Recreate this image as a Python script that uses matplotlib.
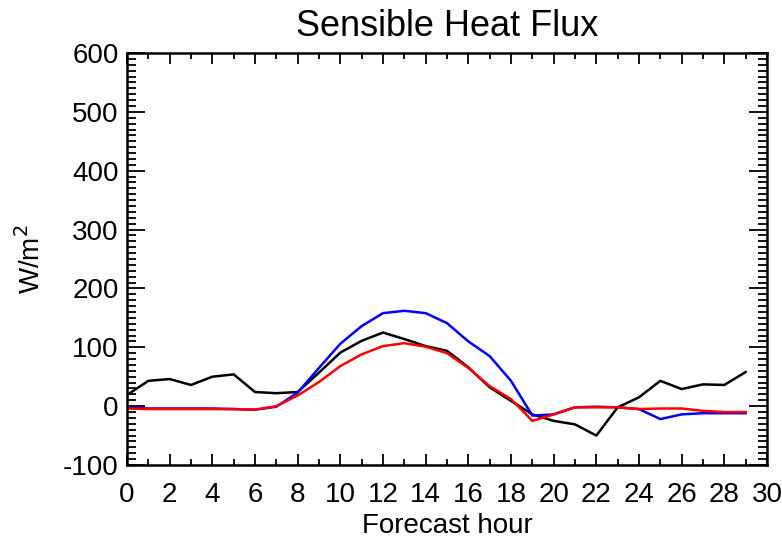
import matplotlib
matplotlib.use("Agg")
import matplotlib.pyplot as plt
from matplotlib.ticker import MultipleLocator

hours = list(range(30))
black = [19, 43, 46, 36, 50, 54, 24, 22, 24, 57, 91, 111, 125, 114, 102, 94, 66, 32, 9,
         -14, -25, -31, -50, -2, 15, 43, 29, 37, 36, 58]
blue = [-3, -4, -4, -4, -4, -5, -6, -1, 23, 65, 106, 136, 158, 162, 158, 141, 110, 85, 43,
        -16, -14, -2, -1, -2, -5, -22, -14, -12, -12, -12]
red = [-4, -5, -5, -5, -5, -5, -6, 0, 18, 41, 68, 88, 102, 107, 101, 90, 65, 34, 12,
       -25, -14, -2, -2, -2, -5, -4, -4, -8, -10, -10]

xticks = list(range(0, 31, 2))
yticks = list(range(-100, 601, 100))

plt.rcParams['font.family'] = ['Liberation Sans', 'DejaVu Sans']
plt.rcParams['axes.unicode_minus'] = False

fig = plt.figure(figsize=(7.82, 5.40), dpi=100)
ax = fig.add_axes([127/782, 1-465/540, 640/782, 412/540])

ax.plot(hours, black, color='black', lw=1.8)
ax.plot(hours, blue, color='blue', lw=1.8)
ax.plot(hours, red, color='red', lw=1.8)

ax.set_xlim(0, 30)
ax.set_ylim(-100, 600)
ax.set_xticks(xticks)
ax.set_yticks(yticks)
ax.xaxis.set_minor_locator(MultipleLocator(1))
ax.yaxis.set_minor_locator(MultipleLocator(10))
ax.tick_params(axis='both', which='both', direction='in', top=True, right=True,
               labelsize=20, width=1.3, color='black')
ax.tick_params(axis='x', which='major', length=8, pad=12.5)
ax.tick_params(axis='x', which='minor', length=4)
ax.tick_params(axis='y', which='major', length=13, pad=6)
ax.tick_params(axis='y', which='minor', length=6.5)
for s in ax.spines.values():
    s.set_linewidth(1.8)

ax.set_title('Sensible Heat Flux', fontsize=26, pad=12)
ax.set_xlabel('Forecast hour', fontsize=20, labelpad=3)
ax.set_ylabel('W/m$^2$', fontsize=20, labelpad=12)

fig.savefig('out.png', dpi=100)
